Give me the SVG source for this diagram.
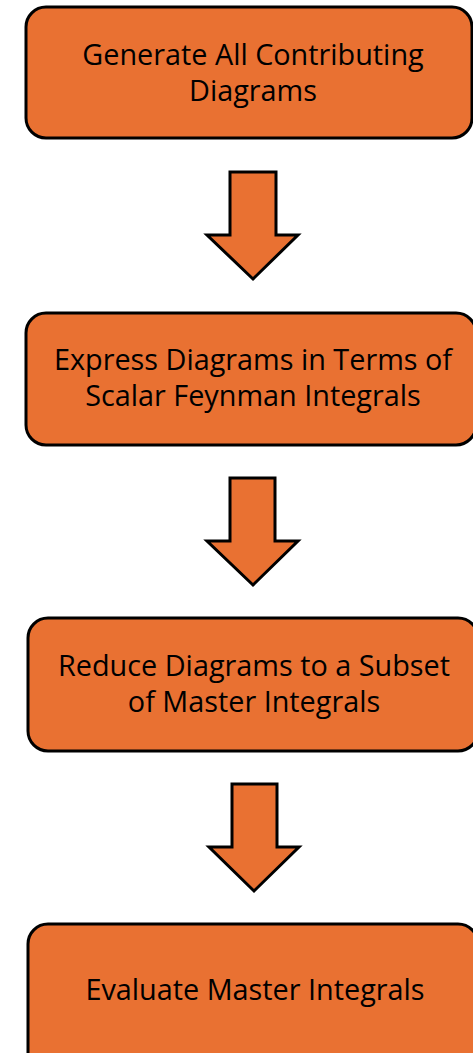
<svg xmlns="http://www.w3.org/2000/svg" width="473" height="1053" viewBox="0 0 473 1053">
  <style>
    .box { fill: #E97132; stroke: #000; stroke-width: 3; }
    .arrow { fill: #E97132; stroke: #000; stroke-width: 3; stroke-linejoin: miter; }
    .label { font-family: "Open Sans", "Noto Sans", sans-serif; font-size: 28.8px; fill: #000; text-anchor: middle; }
  </style>
  <rect width="473" height="1053" fill="#fff"/>

  <g id="step-generate">
    <rect class="box" x="26" y="7" width="446" height="131" rx="20" ry="20"/>
    <text class="label" x="253" y="65">Generate All Contributing</text>
    <text class="label" x="253" y="101">Diagrams</text>
  </g>

  <g id="step-express">
    <rect class="box" x="26" y="313" width="450" height="132" rx="20" ry="20"/>
    <text class="label" x="253" y="370">Express Diagrams in Terms of</text>
    <text class="label" x="253" y="406">Scalar Feynman Integrals</text>
  </g>

  <g id="step-reduce">
    <rect class="box" x="28" y="618" width="450" height="133" rx="20" ry="20"/>
    <text class="label" x="254" y="676">Reduce Diagrams to a Subset</text>
    <text class="label" x="254" y="712">of Master Integrals</text>
  </g>

  <g id="step-evaluate">
    <rect class="box" x="28" y="924" width="450" height="150" rx="20" ry="20"/>
    <text class="label" x="255" y="1000">Evaluate Master Integrals</text>
  </g>

  <g id="connectors">
    <path class="arrow" d="M230,172 L276,172 L276,235 L298,235 L253,279 L207,235 L230,235 Z"/>
    <path class="arrow" d="M230,478 L275,478 L275,541 L298,541 L253,585 L207,541 L230,541 Z"/>
    <path class="arrow" d="M232,784 L277,784 L277,847 L299,847 L254,891 L209,847 L232,847 Z"/>
  </g>
</svg>
